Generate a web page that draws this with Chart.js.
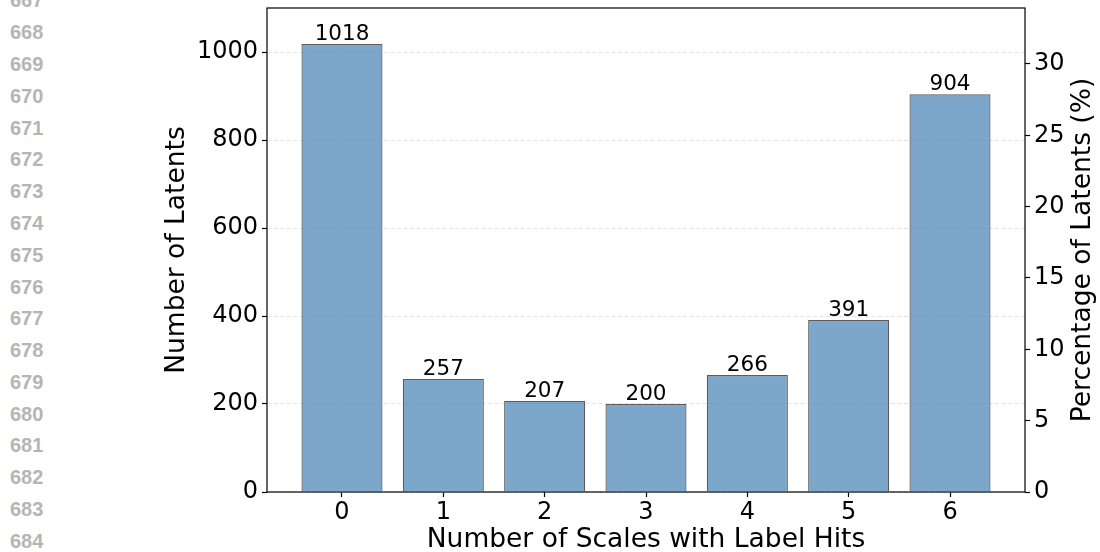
<!DOCTYPE html>
<html>
<head>
<meta charset="utf-8">
<script src="https://cdn.jsdelivr.net/npm/chart.js@4.4.1/dist/chart.umd.min.js"></script>
<style>
  html, body { margin: 0; padding: 0; background: #fff; }
  #wrap { position: relative; width: 1100px; height: 552px; overflow: hidden; }
  #chart { position: absolute; left: 0; top: 0; }
  .ln { position: absolute; left: 10px; font: bold 20px "Liberation Sans", Arial, sans-serif; color: #b5b5b5; line-height: 20px; }
</style>
</head>
<body>
<div id="wrap">
  <div id="lines"></div>
  <canvas id="chart" width="1100" height="552"></canvas>
</div>
<script>
// data
const categories = [0, 1, 2, 3, 4, 5, 6];
const counts = [1018, 257, 207, 200, 266, 391, 904];
const countTicks = [0, 200, 400, 600, 800, 1000];
const percentTicks = [0, 5, 10, 15, 20, 25, 30];
const lineNumbers = [667, 668, 669, 670, 671, 672, 673, 674, 675, 676, 677, 678, 679, 680, 681, 682, 683, 684];

const FONT = "'DejaVu Sans', sans-serif";
const total = counts.reduce((a, b) => a + b, 0);
const countMax = 1100;

// paper line numbers down the left margin
const lines = document.getElementById('lines');
lineNumbers.forEach((n, i) => {
    const d = document.createElement('div');
    d.className = 'ln';
    d.textContent = n;
    d.style.top = (0.4 + i * 31.79 - 10) + 'px';
    lines.appendChild(d);
});

const overlay = {
    id: 'overlay',
    afterDatasetsDraw(chart) {
        const ctx = chart.ctx;
        const a = chart.chartArea;
        const meta = chart.getDatasetMeta(0);
        ctx.save();
        // value labels on top of the bars
        ctx.fillStyle = '#000';
        ctx.font = '21.5px ' + FONT;
        ctx.textAlign = 'center';
        ctx.textBaseline = 'alphabetic';
        meta.data.forEach((bar, i) => {
            ctx.fillText(String(counts[i]), bar.x, bar.y - 4);
        });
        // axes frame
        ctx.strokeStyle = '#000';
        ctx.lineWidth = 1.2;
        ctx.strokeRect(a.left, a.top, a.right - a.left, a.bottom - a.top);
        // right axis title, reads bottom to top like the left one
        ctx.translate(1083, (a.top + a.bottom) / 2);
        ctx.rotate(-Math.PI / 2);
        ctx.font = '26.5px ' + FONT;
        ctx.textBaseline = 'middle';
        ctx.fillText('Percentage of Latents (%)', 0, 0);
        ctx.restore();
    }
};

const ctx = document.getElementById('chart').getContext('2d');
new Chart(ctx, {
    type: 'bar',
    data: {
        datasets: [{
            data: categories.map((c, i) => ({ x: c, y: counts[i] })),
            backgroundColor: 'rgba(70, 130, 180, 0.7)',
            borderColor: '#5c5c5c',
            borderWidth: 1.2,
            barPercentage: 0.8,
            categoryPercentage: 1,
            yAxisID: 'y'
        }]
    },
    options: {
        responsive: false,
        animation: false,
        layout: { padding: { top: 8, left: 0, right: 0, bottom: 0 } },
        plugins: { legend: { display: false }, tooltip: { enabled: false } },
        scales: {
            x: {
                type: 'linear',
                position: 'bottom',
                offset: false,
                min: -0.74,
                max: 6.74,
                afterBuildTicks: s => { s.ticks = categories.map(v => ({ value: v })); },
                afterFit: s => { s.height = 60; s.paddingLeft = 0; s.paddingRight = 0; },
                grid: { offset: false, drawOnChartArea: false, drawTicks: true, tickLength: 5, tickColor: '#000', tickWidth: 1.2 },
                border: { display: false },
                ticks: { font: { family: FONT, size: 24 }, color: '#000', padding: 1, maxRotation: 0, autoSkip: false },
                title: {
                    display: true,
                    text: 'Number of Scales with Label Hits',
                    font: { family: FONT, size: 26.5, lineHeight: 0.9 },
                    color: '#000',
                    padding: { top: 0, bottom: 0 }
                }
            },
            y: {
                position: 'left',
                min: 0,
                max: countMax,
                afterBuildTicks: s => { s.ticks = countTicks.map(v => ({ value: v })); },
                afterFit: s => { s.width = 267; s.paddingTop = 0; s.paddingBottom = 0; },
                grid: { color: '#dcdcdc', lineWidth: 0.8, tickLength: 5, tickColor: '#000', tickWidth: 1.2 },
                border: { display: false, dash: [4, 2.5] },
                ticks: { font: { family: FONT, size: 24 }, color: '#000', padding: 4, callback: v => String(v) },
                title: {
                    display: true,
                    text: 'Number of Latents',
                    font: { family: FONT, size: 26.5 },
                    color: '#000',
                    padding: { top: 161, bottom: 0 }
                }
            },
            y1: {
                position: 'right',
                min: 0,
                max: countMax / total * 100,
                afterBuildTicks: s => { s.ticks = percentTicks.map(v => ({ value: v })); },
                afterFit: s => { s.width = 75; s.paddingTop = 0; s.paddingBottom = 0; },
                grid: { drawOnChartArea: false, tickLength: 5, tickColor: '#000', tickWidth: 1.2 },
                border: { display: false },
                ticks: { font: { family: FONT, size: 24 }, color: '#000', padding: 4, callback: v => String(v) }
            }
        }
    },
    plugins: [overlay]
});
</script>
</body>
</html>
